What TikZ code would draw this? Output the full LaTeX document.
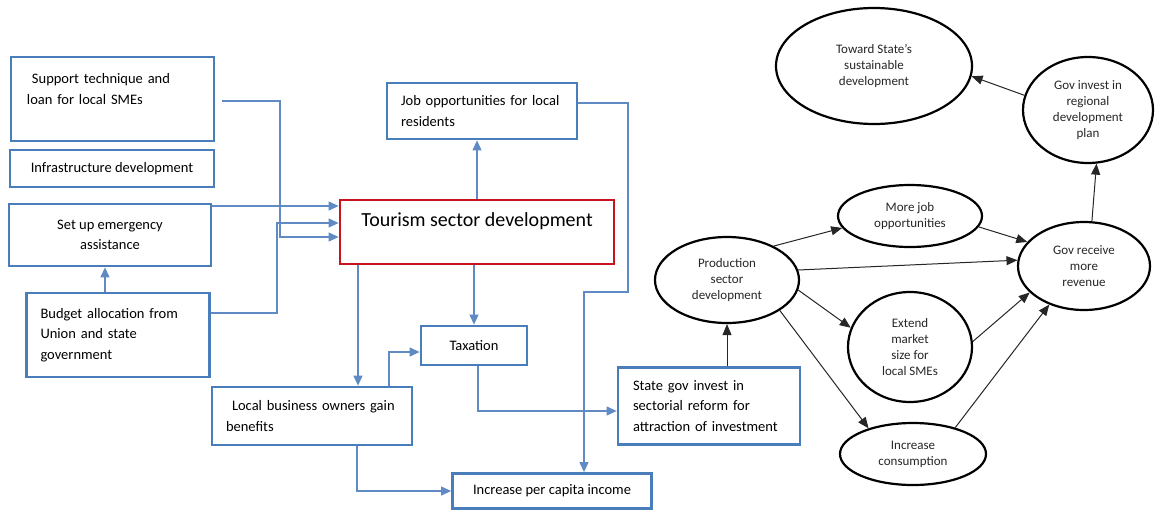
\documentclass[tikz,border=0pt]{standalone}
\usepackage{fontspec}
\setmainfont{Carlito}
\usetikzlibrary{shapes.geometric,arrows.meta}

\definecolor{boxblue}{RGB}{74,126,187}
\definecolor{linkblue}{RGB}{95,138,195}
\definecolor{boxred}{RGB}{200,20,30}

\tikzset{
  bluebox/.style={draw=boxblue, line width=2.8pt, inner sep=0pt, font=\fontsize{14.5}{20.5}\selectfont},
  link/.style={draw=linkblue, line width=1.1pt, -{Triangle[length=10pt,width=9pt]}},
  bubble/.style={ellipse, draw=black, line width=2.2pt, inner sep=0pt, align=center, font=\fontsize{13}{16}\selectfont, text=black!85},
  arr/.style={draw=black!85, line width=1pt, -{Triangle[length=11pt,width=9pt]}},
}

\begin{document}
\begin{tikzpicture}[x=1pt,y=-1pt]
    \useasboundingbox (0,0) rectangle (1164,514);

    % left column
    \node[bluebox, minimum width=203pt, minimum height=84pt, text width=171pt, align=left] (support) at (112.5,99) {\hspace{5pt}Support technique and\\loan for local SMEs\\ \mbox{}};
    \node[bluebox, minimum width=204pt, minimum height=37pt] (infra) at (112,168.5) {Infrastructure development};
    \node[bluebox, minimum width=202pt, minimum height=62pt, align=center] (emerg) at (110,235) {Set up emergency\\assistance};
    \node[bluebox, minimum width=183pt, minimum height=84pt, text width=155pt, align=left] (budget) at (118,335) {Budget allocation from\\Union and state\\government};

    % middle
    \node[draw=boxred, line width=2.8pt, inner sep=0pt, minimum width=274pt, minimum height=64pt, align=center, font=\fontsize{20}{24}\selectfont] (tourism) at (477,232) {Tourism sector development\\ \mbox{}};
    \node[bluebox, minimum width=190pt, minimum height=56pt, text width=162pt, align=left] (jobs) at (482,111) {Job opportunities for local\\residents};
    \node[bluebox, minimum width=106pt, minimum height=39pt] (tax) at (474,345.5) {Taxation};
    \node[bluebox, minimum width=200pt, minimum height=58pt, text width=172pt, align=left] (local) at (312,416) {\hspace{6pt}Local business owners gain\\benefits};
    \node[bluebox, minimum width=199pt, minimum height=35pt] (income) at (552,491) {Increase per capita income};
    \node[bluebox, minimum width=182pt, minimum height=77pt, text width=152pt, align=left] (state) at (709,406) {State gov invest in\\sectorial reform for\\attraction of investment};

    % right side
    \node[bubble, minimum width=196pt, minimum height=116pt] (toward) at (874,66) {Toward State’s\\sustainable\\development};
    \node[bubble, minimum width=130pt, minimum height=106pt] (invest) at (1088,110) {Gov invest in\\regional\\development\\plan};
    \node[bubble, minimum width=132pt, minimum height=88pt] (revenue) at (1084,266) {Gov receive\\more\\revenue};
    \node[bubble, minimum width=144pt, minimum height=62pt] (morejob) at (910,216) {More job\\opportunities};
    \node[bubble, minimum width=144pt, minimum height=86pt] (prod) at (727,280) {Production\\sector\\development};
    \node[bubble, minimum width=124pt, minimum height=110pt] (market) at (910,347) {Extend\\market\\size for\\local SMEs};
    \node[bubble, minimum width=146pt, minimum height=62pt] (consum) at (913,454) {Increase\\consumption};

    % blue connectors
    \draw[link] (emerg.east |- 0,206) -- (tourism.west |- 0,206);
    \draw[link, shorten <=7pt] (support.east |- 0,101) -| (280,237) -- (tourism.west |- 0,237);
    \draw[link] (budget.east |- 0,313) -| (277,223) -- (tourism.west |- 0,223);
    \draw[link] (budget.north -| 105,0) -- (emerg.south -| 105,0);
    \draw[link] (tourism.north) -- (jobs.south -| tourism.north);
    \draw[link] (tourism.south -| tax.north) -- (tax.north);
    \draw[link] (tourism.south -| 358,0) -- (local.north -| 358,0);
    \draw[link] (local.north -| 389,0) |- (tax.west |- 0,352);
    \draw[link] (local.south -| 357,0) |- (income.west);
    \draw[link] (tax.south -| 478,0) |- (state.west |- 0,411);
    \draw[link] (jobs.east |- 0,103) -| (628,292) -| (income.north -| 584,0);

    % black arrows
    \draw[arr] (prod.south |- state.north) -- (prod.south);
    \draw[arr] (prod.36) -- (morejob.190);
    \draw[arr] (prod.8) -- (revenue.175);
    \draw[arr] (morejob.-9) -- (revenue.157);
    \draw[arr] (prod.-8) -- (market.162);
    \draw[arr] (prod.-30) -- (consum.150);
    \draw[arr] (market.5) -- (revenue.206);
    \draw[arr] (consum.32) -- (revenue.228);
    \draw[arr] (revenue.80) -- (invest.-81);
    \draw[arr] (invest.167) -- (toward.-6);
\end{tikzpicture}
\end{document}
